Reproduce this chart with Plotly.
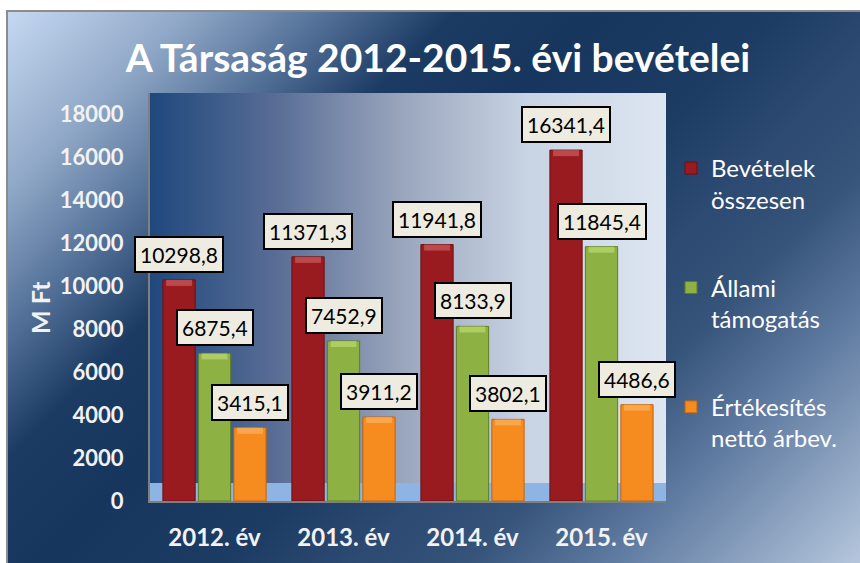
import base64
import plotly.graph_objects as go

categories = ["2012. év", "2013. év", "2014. év", "2015. év"]
series_names = ["Bevételek<br>összesen", "Állami<br>támogatás", "Értékesítés<br>nettó árbev."]
bevetelek = [10298.8, 11371.3, 11941.8, 16341.4]
allami = [6875.4, 7452.9, 8133.9, 11845.4]
ertekesites = [3415.1, 3911.2, 3802.1, 4486.6]
y_ticks = [0, 2000, 4000, 6000, 8000, 10000, 12000, 14000, 16000, 18000]

series_values = [bevetelek, allami, ertekesites]
colors = ["#9A1B1F", "#8DB243", "#F68B20"]
cap_colors = ["#D46A6C", "#C4E07A", "#FDBA6A"]
edge_colors = ["#6E1012", "#5F7E24", "#C0630C"]
offsets = [-0.275, 0.0, 0.275]
bar_w = 0.25
cap_h = 280

W, H = 860, 563
L, R, T, B = 150, 194, 93, 62
pw, ph = W - L - R, H - T - B


def px_x(p):
    return (p - L) / pw


def px_y(p):
    return (H - B - p) / ph


def fmt(v):
    return f"{v:.1f}".replace(".", ",")


def svg_uri(svg):
    return "data:image/svg+xml;base64," + base64.b64encode(svg.encode()).decode()


frame_svg = """<svg xmlns='http://www.w3.org/2000/svg' width='853' height='552' viewBox='0 0 853 552' preserveAspectRatio='none'>
<defs><linearGradient id='g' gradientUnits='userSpaceOnUse' x1='0' y1='0' x2='702' y2='702'>
<stop offset='0' stop-color='#C6D9F1'/>
<stop offset='0.13' stop-color='#90A8C7'/>
<stop offset='0.235' stop-color='#4F6D95'/>
<stop offset='0.32' stop-color='#1C3B63'/>
<stop offset='0.42' stop-color='#17365D'/>
<stop offset='0.55' stop-color='#1D3C64'/>
<stop offset='0.64' stop-color='#2C4A72'/>
<stop offset='0.72' stop-color='#365379'/>
<stop offset='0.82' stop-color='#5E7AA0'/>
<stop offset='1' stop-color='#B5C6DC'/>
</linearGradient></defs>
<rect width='853' height='552' fill='url(#g)'/></svg>"""

plot_svg = """<svg xmlns='http://www.w3.org/2000/svg' width='200' height='200' viewBox='0 0 200 200' preserveAspectRatio='none'>
<defs><linearGradient id='p' x1='0' y1='0' x2='1' y2='0'>
<stop offset='0' stop-color='#1F487D'/>
<stop offset='0.25' stop-color='#5A6E96'/>
<stop offset='0.49' stop-color='#9AA6BD'/>
<stop offset='0.73' stop-color='#C8D3E3'/>
<stop offset='1' stop-color='#DDE6F1'/>
</linearGradient></defs>
<rect width='200' height='200' fill='url(#p)'/></svg>"""

fig = go.Figure()
for i, (name, vals) in enumerate(zip(series_names, series_values)):
    xs = [k + offsets[i] for k in range(len(categories))]
    fig.add_trace(go.Bar(
        x=xs, y=vals, width=bar_w, name=name, legendgroup=f"g{i}",
        marker=dict(color=colors[i], line=dict(color=edge_colors[i], width=1)),
        hoverinfo="skip",
    ))
    # bevelled top cap of each bar
    fig.add_trace(go.Bar(
        x=xs, y=[cap_h] * len(vals), base=[v - cap_h for v in vals], width=bar_w * 0.8,
        marker=dict(color=cap_colors[i], line=dict(width=0), opacity=0.6),
        showlegend=False, legendgroup=f"g{i}", hoverinfo="skip",
    ))

annotations = []
for i, vals in enumerate(series_values):
    for k, v in enumerate(vals):
        annotations.append(dict(
            x=k + offsets[i], y=v, xref="x", yref="y",
            text=fmt(v), showarrow=False, yanchor="bottom", yshift=7,
            font=dict(family="Lato", size=21, color="#000000"),
            bgcolor="#EEECE1", bordercolor="#000000", borderwidth=2, borderpad=4,
        ))

annotations.append(dict(
    x=px_x(40), y=px_y(308), xref="paper", yref="paper", text="<b>M Ft</b>",
    textangle=-90, showarrow=False, xanchor="center", yanchor="middle",
    font=dict(family="Lato", size=25, color="#F2F2F2"),
))

fig.update_layout(
    width=W, height=H,
    margin=dict(l=L, r=R, t=T, b=B, autoexpand=False),
    paper_bgcolor="#FFFFFF",
    plot_bgcolor="rgba(0,0,0,0)",
    barmode="overlay",
    title=dict(
        text="<b>A Társaság 2012-2015. évi bevételei</b>",
        x=438 / W, xanchor="center", y=1 - 58 / H, yanchor="middle",
        font=dict(family="Lato", size=39, color="#FFFFFF"),
    ),
    xaxis=dict(
        range=[-0.5, 3.5], tickvals=list(range(len(categories))), ticktext=categories,
        tickfont=dict(family="Lato", size=24, color="#F2F2F2", weight="bold"),
        showgrid=False, zeroline=False, showline=True, linecolor="#7F7F7F", linewidth=2,
        ticks="", ticklabelstandoff=14, fixedrange=True, automargin=False,
    ),
    yaxis=dict(
        range=[0, 19000], tickvals=y_ticks, ticktext=[str(t) for t in y_ticks],
        tickfont=dict(family="Lato", size=22, color="#F2F2F2", weight="bold"),
        showgrid=False, zeroline=False, showline=True, linecolor="#7F7F7F", linewidth=2,
        ticks="", ticklabelstandoff=20, fixedrange=True, automargin=False,
    ),
    legend=dict(
        x=px_x(671), y=px_y(146), xanchor="left", yanchor="top",
        bgcolor="rgba(0,0,0,0)", font=dict(family="Lato", size=24, color="#FFFFFF"),
        valign="top", tracegroupgap=54, traceorder="grouped",
    ),
    images=[
        dict(source=svg_uri(frame_svg), xref="paper", yref="paper",
             x=px_x(7), y=px_y(11), sizex=(W - 7) / pw, sizey=(H - 11) / ph,
             xanchor="left", yanchor="top", sizing="stretch", layer="below"),
        dict(source=svg_uri(plot_svg), xref="paper", yref="paper",
             x=0, y=1, sizex=1, sizey=1,
             xanchor="left", yanchor="top", sizing="stretch", layer="below"),
    ],
    shapes=[
        dict(type="rect", xref="paper", yref="y", x0=0, x1=1, y0=0, y1=840,
             fillcolor="#8DB4E2", line=dict(width=0), layer="below"),
        dict(type="rect", xref="paper", yref="paper",
             x0=px_x(7), x1=px_x(W + 5), y0=px_y(11), y1=px_y(H + 5),
             fillcolor="rgba(0,0,0,0)", line=dict(color="#8C8C8C", width=2), layer="above"),
    ],
    annotations=annotations,
    showlegend=True,
)

fig.write_html("out.html", config={"displayModeBar": False})

# remove the browser's default page margin so the figure sits at the window origin
with open("out.html", "r", encoding="utf-8") as f:
    html = f.read()
html = html.replace("<body>", "<body style=\"margin:0;overflow:hidden\">", 1)
with open("out.html", "w", encoding="utf-8") as f:
    f.write(html)
